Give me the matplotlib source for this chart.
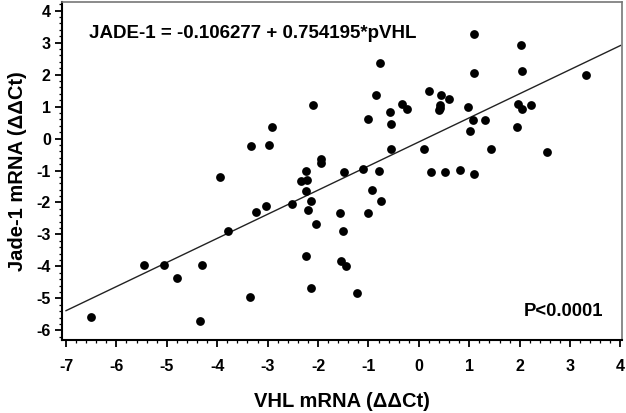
import matplotlib
matplotlib.use("Agg")
import matplotlib.pyplot as plt
import numpy as np
from matplotlib.ticker import MultipleLocator

# Data
vhl = [-6.50, -5.45, -5.05, -4.80, -4.31, -4.34, -3.95, -3.79, -3.34, -3.33,
       -3.24, -3.03, -2.97, -2.92, -2.52, -2.34, -2.22, -2.24, -2.24, -2.13,
       -2.19, -2.05, -2.24, -2.13, -2.10, -1.95, -1.94, -1.56, -1.50, -1.54,
       -1.45, -1.23, -1.49, -1.11, -1.00, -0.92, -0.76, -0.79, -1.01, -0.86,
       -0.78, -0.57, -0.55, -0.55, -0.34, -0.24, 0.10, 0.21, 0.25, 0.43,
       0.59, 0.42, 0.41, 0.40, 0.52, 0.82, 0.97, 1.01, 1.08, 1.10,
       1.10, 1.10, 1.31, 1.43, 1.95, 1.97, 2.05, 2.22, 2.03, 2.05,
       2.54, 3.32]
jade = [-5.58, -3.95, -3.97, -4.36, -3.95, -5.70, -1.21, -2.90, -4.95, -0.22,
        -2.30, -2.11, -0.21, 0.35, -2.06, -1.33, -1.30, -1.02, -1.64, -1.95,
        -2.25, -2.68, -3.69, -4.68, 1.04, -0.65, -0.77, -2.34, -2.89, -3.82,
        -3.98, -4.84, -1.04, -0.96, -2.34, -1.62, -1.95, -1.02, 0.60, 1.35,
        2.36, 0.82, 0.46, -0.32, 1.07, 0.93, -0.32, 1.48, -1.05, 1.35,
        1.23, 1.05, 0.95, 0.89, -1.04, -0.97, 0.99, 0.23, 0.58, 2.06,
        3.26, -1.11, 0.58, -0.33, 0.35, 1.09, 0.91, 1.05, 2.93, 2.11,
        -0.42, 2.00]
intercept = -0.106277
slope = 0.754195
line_x = [-7, 4]
x_ticks = list(range(-7, 5))
y_ticks = list(range(-6, 5))

plt.rcParams['font.family'] = ['Liberation Sans', 'DejaVu Sans']
plt.rcParams['font.weight'] = 'bold'
plt.rcParams['axes.unicode_minus'] = False

fig = plt.figure(figsize=(6.26, 4.13), dpi=100)
ax = fig.add_axes([0.099, 0.177, 0.8946, 0.818])

ax.scatter(vhl, jade, s=40, color='black', zorder=3, linewidths=0)
lx = np.array(line_x, dtype=float)
ax.plot(lx, intercept + slope * lx, color='#222222', lw=1.0, zorder=2)

ax.set_xlim(-7.08, 4.03)
ax.set_ylim(-6.3, 4.27)
ax.set_xticks(x_ticks)
ax.set_yticks(y_ticks)
ax.xaxis.set_minor_locator(MultipleLocator(0.2))
ax.yaxis.set_minor_locator(MultipleLocator(0.2))
ax.tick_params(which='major', direction='out', length=5, width=1.3, labelsize=11.5, pad=3)
ax.tick_params(which='minor', direction='out', length=2.5, width=0.9)
ax.tick_params(axis='x', which='major', pad=9)
for lab in ax.get_xticklabels() + ax.get_yticklabels():
    lab.set_fontweight('bold')

for s in ['left', 'bottom']:
    ax.spines[s].set_linewidth(1.5)
    ax.spines[s].set_color('black')
for s in ['top', 'right']:
    ax.spines[s].set_linewidth(1.2)
    ax.spines[s].set_color('#777777')

ax.set_xlabel('VHL mRNA (ΔΔCt)', fontsize=14.5, fontweight='bold', labelpad=13)
ax.set_ylabel('Jade-1 mRNA (ΔΔCt)', fontsize=14.5, fontweight='bold', labelpad=7)

ax.text(0.048, 0.908, 'JADE-1 = -0.106277 + 0.754195*pVHL', transform=ax.transAxes,
        fontsize=13.5, fontweight='bold', ha='left', va='center')
ax.text(0.966, 0.083, 'P<0.0001', transform=ax.transAxes,
        fontsize=13.3, fontweight='bold', ha='right', va='center')

fig.savefig('out.png', dpi=100)
